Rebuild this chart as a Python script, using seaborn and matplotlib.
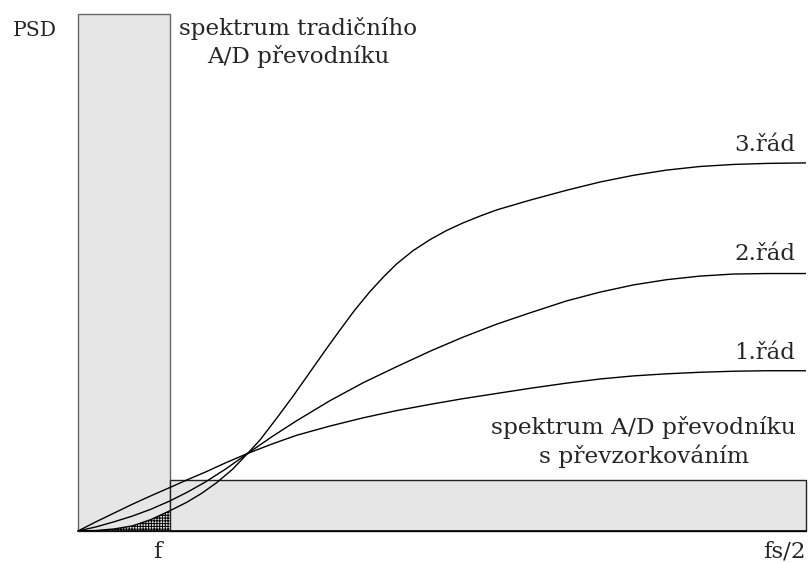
import numpy as np
import pandas as pd
import matplotlib
matplotlib.use("Agg")
import matplotlib.pyplot as plt
from matplotlib.patches import Rectangle
import seaborn as sns

# frequency axis in % of fs/2, PSD in % of the plot height
x1 = [0, 2.5, 5, 7.5, 10, 12.6, 15, 17.5, 20.3, 23.3, 26.6, 30, 34.6, 39.2, 43.8, 48.4,
      52.9, 57.5, 62.1, 67.1, 71.7, 76.3, 80.8, 85.4, 90, 94.6, 100]
y1 = [0, 1.8, 3.5, 5.2, 6.8, 8.4, 9.9, 11.4, 13.2, 15.0, 16.8, 18.5, 20.3, 21.9, 23.3, 24.5,
      25.6, 26.6, 27.6, 28.6, 29.4, 30.0, 30.4, 30.7, 30.9, 31.0, 31.0]

x2 = [0, 2.5, 5, 7.5, 10, 12.6, 15, 17.4, 20.3, 23.3, 26.6, 30, 34.6, 39.2, 43.8, 48.4,
      52.9, 57.5, 62.1, 67.1, 71.7, 76.3, 80.8, 85.4, 90, 94.6, 100]
y2 = [0, 0.8, 1.8, 2.9, 4.2, 5.8, 7.5, 9.4, 12.0, 15.0, 18.2, 21.3, 25.2, 28.7, 31.8, 34.8,
      37.5, 40.0, 42.2, 44.5, 46.2, 47.6, 48.6, 49.3, 49.7, 49.8, 49.8]

x3 = [0, 2.5, 5, 7.5, 10, 12.6, 15, 17, 19, 21.2, 23.3, 25, 27.5, 29.6, 31.6, 34.4, 36,
      38, 40.1, 42, 43.8, 46, 48.4, 50.6, 52.9, 55.2, 57.5, 62.1, 67.1, 71.7, 76.3, 80.8,
      85.4, 90, 94.6, 100]
y3 = [0, 0.1, 0.4, 1.0, 2.2, 3.9, 5.6, 7.3, 9.3, 11.9, 15.0, 17.6, 22.2, 26.2, 30.2, 35.8, 38.9,
      42.7, 46.3, 49.2, 51.7, 54.2, 56.4, 58.1, 59.6, 60.9, 62.1, 64.0, 65.9, 67.5, 68.8, 69.8,
      70.5, 70.9, 71.1, 71.2]

order_labels = ["1.řád", "2.řád", "3.řád"]

f_band = 12.6        # signal bandwidth f
classic_psd = 100    # traditional converter noise level
oversampled_psd = 9.9

sns.set_style("white")
plt.rcParams["font.family"] = ["DejaVu Serif"]
plt.rcParams["hatch.linewidth"] = 0.7

fig = plt.figure(figsize=(8.08, 5.63), dpi=100)
ax = fig.add_axes([78 / 808, (563 - 531) / 563, 728 / 808, 517 / 563])

# noise spectra of the two converters
ax.add_patch(Rectangle((0, 0), f_band, classic_psd, facecolor="#e6e6e6",
                       edgecolor="#666666", linewidth=1, clip_on=False, zorder=1))
ax.add_patch(Rectangle((f_band, 0), 100 - f_band, oversampled_psd, facecolor="#e6e6e6",
                       edgecolor="#222222", linewidth=1, clip_on=False, zorder=1))

# in-band noise under the 3rd order curve
xb = np.array([v for v in x3 if v <= f_band])
yb = np.array(y3[:len(xb)])
ax.fill_between(xb, 0, yb, facecolor="#e6e6e6", edgecolor="black", hatch="++++++",
                linewidth=0, zorder=2)

df = pd.concat([
    pd.DataFrame({"x": x1, "y": y1, "order": order_labels[0]}),
    pd.DataFrame({"x": x2, "y": y2, "order": order_labels[1]}),
    pd.DataFrame({"x": x3, "y": y3, "order": order_labels[2]}),
])
sns.lineplot(data=df, x="x", y="y", units="order", estimator=None, color="black",
             linewidth=1, ax=ax, zorder=3)

ax.set_xlim(0, 100)
ax.set_ylim(0, 100)
ax.set_xticks([])
ax.set_yticks([])
ax.set_xlabel("")
ax.set_ylabel("")
for s in ["top", "right", "left"]:
    ax.spines[s].set_visible(False)
ax.spines["bottom"].set_color("black")
ax.spines["bottom"].set_linewidth(1.2)
ax.spines["bottom"].set_zorder(4)

ax.text(-5.95, 96.8, "PSD", ha="center", va="center", fontsize=14.7, clip_on=False)
ax.text(30.2, 94.5, "spektrum tradičního\nA/D převodníku", ha="center", va="center",
        fontsize=16.6, linespacing=1.3)
ax.text(98.5, 74.7, order_labels[2], ha="right", va="center", fontsize=16.5)
ax.text(98.5, 53.6, order_labels[1], ha="right", va="center", fontsize=16.5)
ax.text(98.5, 34.4, order_labels[0], ha="right", va="center", fontsize=16.5)
ax.text(77.7, 17.3, "spektrum A/D převodníku\ns převzorkováním", ha="center", va="center",
        fontsize=16.8, linespacing=1.3)
ax.text(10.85, -4, "f", ha="center", va="center", fontsize=16.5, clip_on=False)
ax.text(100, -4, "fs/2", ha="right", va="center", fontsize=16.5, clip_on=False)

fig.savefig("out.png", dpi=100)
